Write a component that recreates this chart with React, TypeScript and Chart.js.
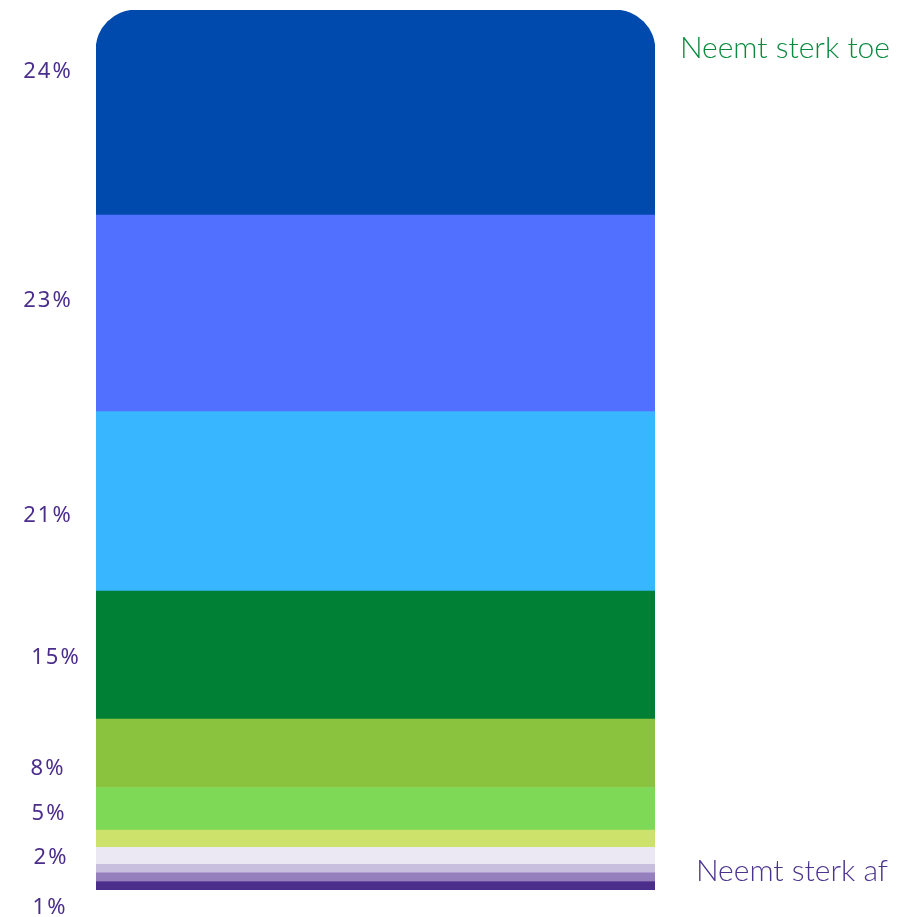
import React, { useEffect, useRef } from "react";
import { Chart, registerables } from "chart.js";

Chart.register(...registerables);

// Segments, bottom to top
const segmentValues = [1, 1, 1, 2, 2, 5, 8, 15, 21, 23, 24];
const segmentColors = [
  "#4B2D8C",
  "#9580BD",
  "#C8BFDE",
  "#ECE8F3",
  "#CCE26A",
  "#7ED957",
  "#8AC43F",
  "#008035",
  "#38B6FF",
  "#5170FF",
  "#004AAD",
];

// Left-side percentage labels and the value (on the stacked scale) where each sits
const sideLabels = ["24%", "23%", "21%", "15%", "8%", "5%", "2%", "1%"];
const sideLabelAnchors = [95.8, 69.0, 43.8, 27.2, 14.2, 8.9, 3.8, -2.1];
// small horizontal nudges of the left labels (px)
const sideLabelShift = [0, 0, 0, 8, 0, 1, 3, 2];

const topText = "Neemt sterk toe";
const bottomText = "Neemt sterk af";

const sideLabelPlugin = {
  id: "sideLabels",
  afterDraw(chart: any) {
    const { ctx, scales, chartArea } = chart;
    const y = scales.y;
    ctx.save();
    ctx.fillStyle = "#4B2E8C";
    ctx.font = "22px 'Noto Sans'";
    (ctx as any).letterSpacing = "2px";
    ctx.textAlign = "center";
    ctx.textBaseline = "middle";
    sideLabels.forEach((t, i) => {
      ctx.fillText(t, chartArea.left - 48 + sideLabelShift[i], y.getPixelForValue(sideLabelAnchors[i]));
    });
    (ctx as any).letterSpacing = "0px";
    ctx.font = "300 30px Lato";
    ctx.textAlign = "right";
    ctx.fillStyle = "#0A8A3E";
    ctx.fillText(topText, chart.width - 12, y.getPixelForValue(98.5));
    ctx.fillStyle = "#4B3390";
    ctx.fillText(bottomText, chart.width - 14, y.getPixelForValue(2.2));
    ctx.restore();
  },
};

export default function App() {
  const ref = useRef<HTMLCanvasElement>(null);
  useEffect(() => {
    const total = segmentValues.reduce((a, b) => a + b, 0);
    const chart = new Chart(ref.current!, {
      type: "bar",
      data: {
        labels: [""],
        datasets: segmentValues.map((v, i) => ({
          data: [v],
          backgroundColor: segmentColors[i],
          borderWidth: 0,
          borderRadius: i === segmentValues.length - 1 ? 40 : 0,
          borderSkipped: "bottom",
          barPercentage: 1,
          categoryPercentage: 1,
        })),
      },
      options: {
        animation: false,
        responsive: false,
        maintainAspectRatio: false,
        layout: { padding: { left: 96, right: 247, top: 10, bottom: 27 } },
        plugins: { legend: { display: false }, tooltip: { enabled: false } },
        scales: {
          x: { stacked: true, display: false },
          y: { stacked: true, display: false, min: 0, max: total },
        },
      },
      plugins: [sideLabelPlugin],
    });
    return () => chart.destroy();
  }, []);
  return (
    <div style={{ position: "absolute", left: 0, top: 0, width: 902, height: 917, background: "#fff" }}>
      <canvas ref={ref} width={902} height={917} style={{ display: "block" }} />
    </div>
  );
}
